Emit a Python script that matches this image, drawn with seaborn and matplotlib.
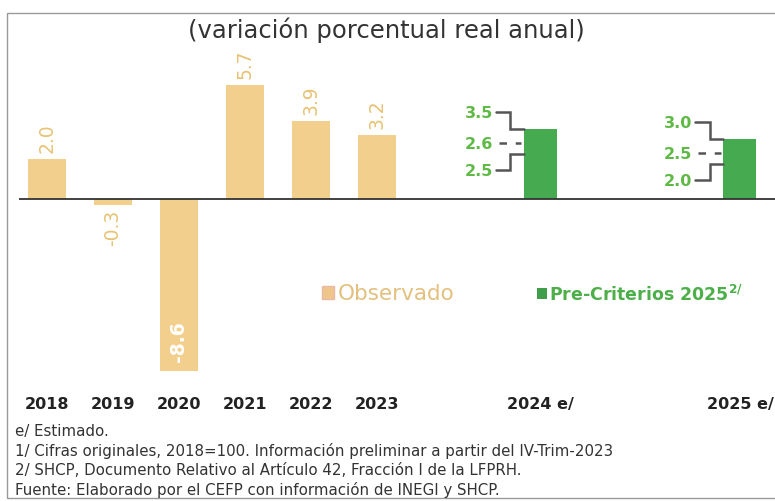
import matplotlib
matplotlib.use("Agg")
import matplotlib.pyplot as plt
from matplotlib.patches import Rectangle
import seaborn as sns
import pandas as pd

# ---- data ----
obs_years = ["2018", "2019", "2020", "2021", "2022", "2023"]
obs_values = [2.0, -0.3, -8.6, 5.7, 3.9, 3.2]
fc_years = ["2024 e/", "2025 e/"]
fc_mid = [2.6, 2.5]
fc_high = [3.5, 3.0]
fc_low = [2.5, 2.0]

title = "(variación porcentual real anual)"
legend_obs = "Observado"
legend_fc = r"Pre-Criterios 2025$^{\mathbf{2/}}$"
notes = [
    "e/ Estimado.",
    "1/ Cifras originales, 2018=100. Información preliminar a partir del IV-Trim-2023",
    "2/ SHCP, Documento Relativo al Artículo 42, Fracción I de la LFPRH.",
    "Fuente: Elaborado por el CEFP con información de INEGI y SHCP.",
]

# ---- layout / style ----
obs_pos = [0, 1, 2, 3, 4, 5]
fc_pos = [7.48, 10.5]
GOLD = "#F2CF8D"
GOLD_TXT = "#E8C274"
GREEN = "#45AA50"
GREEN_TXT = "#5FBA45"
W, H = 775, 502

sns.set_theme(style="white")
plt.rcParams["font.family"] = ["DejaVu Sans"]

fig = plt.figure(figsize=(W / 100, H / 100), dpi=100)
ax = fig.add_axes([19 / W, 1 - 380 / H, 1 - 19 / W, 320 / H])

df = pd.DataFrame({
    "pos": obs_pos + fc_pos,
    "value": obs_values + fc_high,
    "grupo": ["obs"] * len(obs_values) + ["fc"] * len(fc_high),
})
sns.barplot(data=df, x="pos", y="value", hue="grupo",
            palette={"obs": GOLD, "fc": GREEN}, native_scale=True,
            dodge=False, width=0.58, legend=False, ax=ax, saturation=1,
            edgecolor="none", linewidth=0)

# narrower green bars
for p in ax.patches:
    cx = p.get_x() + p.get_width() / 2
    if cx > 6:
        p.set_width(0.5)
        p.set_x(cx - 0.25)

ax.set_xlim(-0.42, (W - 47) / 66)
ax.set_ylim(-9, 7)
for s in ax.spines.values():
    s.set_visible(False)
ax.set_yticks([])
ax.set_xlabel("")
ax.set_ylabel("")
ax.set_xticks(obs_pos + fc_pos)
ax.set_xticklabels(obs_years + fc_years, fontweight="bold", fontsize=11.5, color="#222")
ax.tick_params(axis="x", length=0, pad=12)
ax.axhline(0, color="#333333", lw=1.3, zorder=5)

# value labels of observed bars
for x, v in zip(obs_pos, obs_values):
    if v >= 0:
        ax.annotate(f"{v:.1f}", (x, v), xytext=(0, 5), textcoords="offset points",
                    rotation=90, ha="center", va="bottom", fontsize=13.5, color=GOLD_TXT)
    elif v > -2:
        ax.annotate(f"{v:.1f}", (x, v), xytext=(0, -3), textcoords="offset points",
                    rotation=90, ha="center", va="top", fontsize=13.5, color=GOLD_TXT)
    else:
        ax.annotate(f"{v:.1f}", (x, v), xytext=(0, 7), textcoords="offset points",
                    rotation=90, ha="center", va="bottom", fontsize=13.5, color="white",
                    fontweight="bold")

# forecast range brackets
LC = "#555555"
for x, hi, mid, lo in zip(fc_pos, fc_high, fc_mid, fc_low):
    edge = x - 0.25
    corner = x - 0.46
    start = x - 0.68
    y_top = hi + 0.85
    y_mid = hi - 0.72
    y_low = hi - 2.05
    y_lowc = hi - 1.25
    ax.plot([start, corner, corner, edge], [y_top, y_top, hi, hi], color=LC, lw=1.8,
            solid_joinstyle="miter")
    ax.plot([start, corner, corner, edge], [y_low, y_low, y_lowc, y_lowc], color=LC, lw=1.8,
            solid_joinstyle="miter")
    ax.plot([start + 0.05, edge - 0.04], [y_mid, y_mid], color=LC, lw=1.8,
            linestyle=(0, (3, 3.5)))
    for yy, val in [(y_top, hi), (y_mid, mid), (y_low, lo)]:
        ax.text(start - 0.04, yy, f"{val:.1f}", ha="right", va="center",
                fontsize=11.5, fontweight="bold", color=GREEN_TXT)

# legend (manual)
fig.patches.append(Rectangle((322 / W, 1 - 300 / H), 12 / W, 13 / H,
                             transform=fig.transFigure, facecolor="#EEC68C",
                             edgecolor="#E9B9A6", lw=1))
fig.text(338 / W, 1 - 294 / H, legend_obs, ha="left", va="center",
         fontsize=15.5, color="#E3C07E")
fig.patches.append(Rectangle((537 / W, 1 - 300 / H), 10 / W, 11 / H,
                             transform=fig.transFigure, facecolor="#3F9E4A",
                             edgecolor="none"))
fig.text(549 / W, 1 - 295 / H, legend_fc, ha="left", va="center",
         fontsize=12.5, fontweight="bold", color="#4DAF4A")

# title
fig.text(386 / W, 1 - 30 / H, title, ha="center", va="center", fontsize=17.5, color="#333333")

# notes
for i, t in enumerate(notes):
    fig.text(15 / W, 1 - (432 + i * 19.3) / H, t, ha="left", va="center",
             fontsize=10.8, color="#333333")

# frame
fig.patches.append(Rectangle((7 / W, 1 - 499 / H), 1.0, (499 - 14) / H,
                             transform=fig.transFigure, facecolor="none",
                             edgecolor="#9a9a9a", lw=1, zorder=0))

fig.savefig("out.png", dpi=100)
